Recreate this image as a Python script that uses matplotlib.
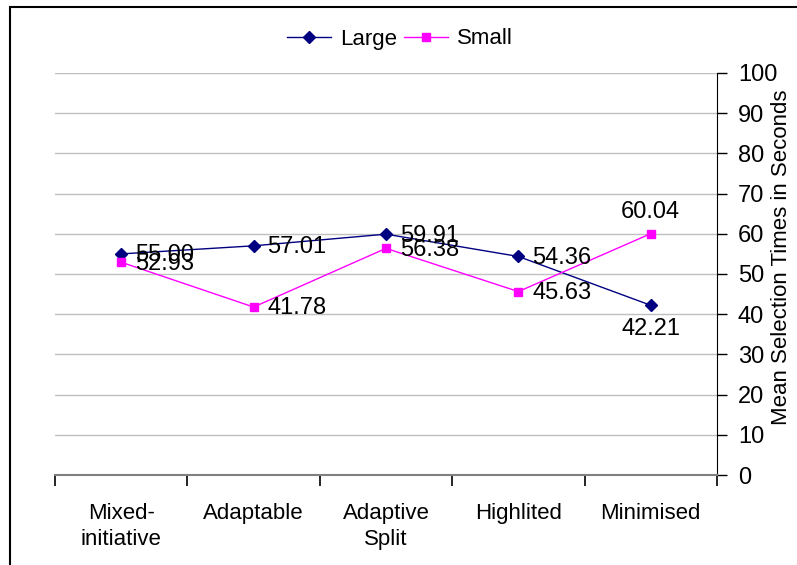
import matplotlib.pyplot as plt
from matplotlib.patches import Rectangle

plt.rcParams['font.family'] = ['Liberation Sans', 'DejaVu Sans']

categories = ['Mixed-\ninitiative', 'Adaptable', 'Adaptive\nSplit', 'Highlited', 'Minimised']
large = [55.00, 57.01, 59.91, 54.36, 42.21]
small = [52.93, 41.78, 56.38, 45.63, 60.04]

fig = plt.figure(figsize=(7.97, 5.65), dpi=100)
ax = fig.add_axes([55/797, 1-475/565, (717-55)/797, (475-73)/565])

# outer chart border (right/bottom run off the page)
fig.patches.append(Rectangle((10/797, -0.05), 1.2, 1 - 7/565 + 0.05,
                             transform=fig.transFigure, fill=False,
                             edgecolor='black', linewidth=1.5))

fs_num = 17
fs_txt = 16

x = range(len(categories))
ax.plot(x, large, color='#000080', marker='D', markersize=6, linewidth=1, label='Large')
ax.plot(x, small, color='#FF00FF', marker='s', markersize=6, linewidth=1, label='Small')

for i, v in enumerate(large):
    if i == len(large) - 1:
        ax.annotate('%.2f' % v, (i, v), xytext=(0, -9), textcoords='offset points',
                    ha='center', va='top', fontsize=fs_num)
    else:
        ax.annotate('%.2f' % v, (i, v), xytext=(10, -1), textcoords='offset points',
                    ha='left', va='center', fontsize=fs_num)
for i, v in enumerate(small):
    if i == len(small) - 1:
        ax.annotate('%.2f' % v, (i, v), xytext=(0, 8), textcoords='offset points',
                    ha='center', va='bottom', fontsize=fs_num)
    else:
        ax.annotate('%.2f' % v, (i, v), xytext=(10, -1), textcoords='offset points',
                    ha='left', va='center', fontsize=fs_num)

ax.set_xlim(-0.5, len(categories) - 0.5)
ax.set_ylim(0, 100)
ax.set_yticks(range(0, 101, 10))
ax.yaxis.tick_right()
ax.yaxis.set_label_position('right')
ax.set_ylabel('Mean Selection Times in Seconds', fontsize=fs_txt)
ax.yaxis.set_label_coords((771 - 55) / (717 - 55), (475 - 257) / (475 - 73))
ax.tick_params(axis='y', direction='out', length=7, width=1, labelsize=fs_num, pad=8)
ax.grid(axis='y', color='#c0c0c0', linewidth=1)
ax.set_axisbelow(True)

# category labels between boundary ticks
ax.set_xticks([i + 0.5 for i in range(-1, len(categories))])
ax.set_xticklabels([])
ax.set_xticks(list(x), minor=True)
ax.set_xticklabels(categories, minor=True, fontsize=fs_txt, linespacing=1.35)
ax.tick_params(axis='x', which='major', direction='out', length=8, width=1.2, color='black')
ax.tick_params(axis='x', which='minor', length=0, pad=20)

for s in ['top', 'left']:
    ax.spines[s].set_visible(False)
ax.spines['bottom'].set_color('#808080')
ax.spines['bottom'].set_linewidth(1.5)
ax.spines['right'].set_color('black')

fig.legend(loc='center', bbox_to_anchor=(400/797, 1-39/565), ncol=2, frameon=False,
           fontsize=fs_txt, handlelength=2.0, handletextpad=0.4, columnspacing=0.3)

fig.savefig('out.png', dpi=100)
